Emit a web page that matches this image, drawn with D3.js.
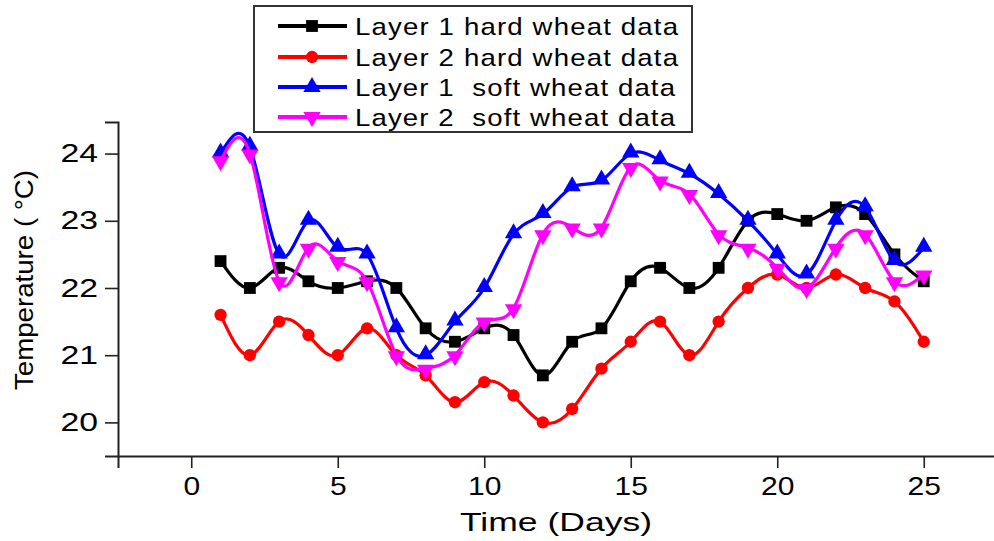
<!DOCTYPE html>
<html>
<head>
<meta charset="utf-8">
<script src="https://cdn.jsdelivr.net/npm/d3@7/dist/d3.min.js"></script>
<style>
  html, body { margin: 0; padding: 0; background: #fff; }
  svg { display: block; font-family: "Liberation Sans", Arial, sans-serif; }
</style>
</head>
<body>
<svg id="chart" width="994" height="541"></svg>
<script>
// Daily temperatures for the two wheat types at two storage layers
const days = d3.range(1, 26);
const layer1Hard = [22.4, 22.0, 22.3, 22.1, 22.0, 22.1, 22.0, 21.4, 21.2, 21.4, 21.3, 20.7, 21.2, 21.4, 22.1, 22.3, 22.0, 22.3, 23.0, 23.1, 23.0, 23.2, 23.1, 22.5, 22.1];
const layer2Hard = [21.6, 21.0, 21.5, 21.3, 21.0, 21.4, 21.0, 20.7, 20.3, 20.6, 20.4, 20.0, 20.2, 20.8, 21.2, 21.5, 21.0, 21.5, 22.0, 22.2, 22.0, 22.2, 22.0, 21.8, 21.2];
const layer1Soft = [24.0, 24.1, 22.5, 23.0, 22.6, 22.5, 21.4, 21.0, 21.5, 22.0, 22.8, 23.1, 23.5, 23.6, 24.0, 23.9, 23.7, 23.4, 23.0, 22.5, 22.2, 23.0, 23.2, 22.4, 22.6];
const layer2Soft = [23.9, 24.0, 22.1, 22.6, 22.4, 22.1, 21.0, 20.8, 21.0, 21.5, 21.7, 22.8, 22.9, 22.9, 23.8, 23.6, 23.4, 22.8, 22.6, 22.3, 22.0, 22.6, 22.8, 22.1, 22.2];

const seriesNames = ["Layer 1 hard wheat data", "Layer 2 hard wheat data", "Layer 1  soft wheat data", "Layer 2  soft wheat data"];
const seriesColors = ["#000000", "#ff0000", "#0000ff", "#ff00ff"];
const seriesValues = [layer1Hard, layer2Hard, layer1Soft, layer2Soft];

const xMajorTicks = [0, 5, 10, 15, 20, 25];
const xMinorTicks = [-2.5, 2.5, 7.5, 12.5, 17.5, 22.5];
const yMajorTicks = [20, 21, 22, 23, 24];
const yMinorTicks = [19.5, 20.5, 21.5, 22.5, 23.5];

const xTitle = "Time (Days)";
const yTitle = "Temperature ( \u00B0C)";

const svg = d3.select("#chart");

const x = d3.scaleLinear().domain([-2.5, 27.5]).range([118, 997]);
const y = d3.scaleLinear().domain([19.5, 24.47]).range([456, 122]);

const axisColor = "#222";

// ---- axes ----
const gx = svg.append("g").attr("transform", "translate(0,456)");
gx.call(d3.axisBottom(x).tickValues(xMinorTicks).tickSize(7).tickFormat(""));
gx.call(d3.axisBottom(x).tickValues(xMajorTicks).tickSize(12).tickFormat(d3.format("d")));
gx.selectAll("path.domain").attr("stroke", axisColor).attr("stroke-width", 2);
gx.selectAll(".tick line").attr("stroke", axisColor).attr("stroke-width", 1.6);
gx.selectAll(".tick text")
  .attr("y", 0).attr("dy", 0)
  .attr("fill", "#000")
  .style("font-size", "25px")
  .attr("transform", "translate(0,39) scale(1.2,1)");

const gy = svg.append("g").attr("transform", "translate(118,0)");
gy.call(d3.axisLeft(y).tickValues(yMinorTicks).tickSize(7).tickFormat(""));
gy.call(d3.axisLeft(y).tickValues(yMajorTicks).tickSize(13).tickFormat(d3.format("d")));
gy.selectAll("path.domain").attr("stroke", axisColor).attr("stroke-width", 2);
gy.selectAll(".tick line").attr("stroke", axisColor).attr("stroke-width", 1.6);
gy.selectAll(".tick text")
  .attr("x", 0)
  .attr("fill", "#000")
  .style("font-size", "25px")
  .attr("transform", "translate(-20,0) scale(1.35,1)");

// axis titles
svg.append("text")
  .attr("x", 460).attr("y", 531)
  .attr("textLength", 192).attr("lengthAdjust", "spacingAndGlyphs")
  .style("font-size", "26px").attr("fill", "#000")
  .text(xTitle);

svg.append("text")
  .attr("transform", "translate(33,390) rotate(-90)")
  .attr("textLength", 220).attr("lengthAdjust", "spacingAndGlyphs")
  .style("font-size", "26px").style("white-space", "pre").attr("fill", "#000")
  .text(yTitle);

// ---- series ----
const symbols = [d3.symbolSquare, d3.symbolCircle, d3.symbolTriangle, d3.symbolTriangle];
const symbolSizes = [140, 120, 130, 130];
const symbolRotate = [0, 0, 0, 180];

const line = d3.line().x(d => x(d[0])).y(d => y(d[1])).curve(d3.curveNatural);

seriesValues.forEach((vals, i) => {
  const pts = days.map((d, j) => [d, vals[j]]);
  const g = svg.append("g");
  g.append("path")
    .attr("d", line(pts))
    .attr("fill", "none")
    .attr("stroke", seriesColors[i])
    .attr("stroke-width", 3.2)
    .attr("stroke-linejoin", "round");
  g.selectAll("path.mk")
    .data(pts)
    .join("path")
    .attr("class", "mk")
    .attr("d", d3.symbol().type(symbols[i]).size(symbolSizes[i]))
    .attr("transform", d => `translate(${x(d[0])},${y(d[1]) + (i === 3 ? 1 : i === 2 ? -1 : 0)}) rotate(${symbolRotate[i]})`)
    .attr("fill", seriesColors[i]);
});

// ---- legend ----
const legend = svg.append("g");
legend.append("rect")
  .attr("x", 254).attr("y", 6).attr("width", 438).attr("height", 126)
  .attr("fill", "#fff").attr("stroke", "#333").attr("stroke-width", 2);

const legendRows = [26, 57, 87, 117];
const legendTextLen = [323, 323, 320, 320];
const legendStretch = 1.15;
seriesNames.forEach((name, i) => {
  const row = legend.append("g").attr("transform", `translate(0,${legendRows[i]})`);
  row.append("line")
    .attr("x1", 278).attr("x2", 347).attr("y1", 0).attr("y2", 0)
    .attr("stroke", seriesColors[i]).attr("stroke-width", 4);
  row.append("path")
    .attr("d", d3.symbol().type(symbols[i]).size(symbolSizes[i])())
    .attr("transform", `translate(312,0) rotate(${symbolRotate[i]})`)
    .attr("fill", seriesColors[i]);
  row.append("text")
    .attr("transform", `translate(355,9) scale(${legendStretch},1)`)
    .attr("textLength", legendTextLen[i] / legendStretch).attr("lengthAdjust", "spacing")
    .style("font-size", "24px").style("white-space", "pre").attr("fill", "#000")
    .text(name);
});
</script>
</body>
</html>
